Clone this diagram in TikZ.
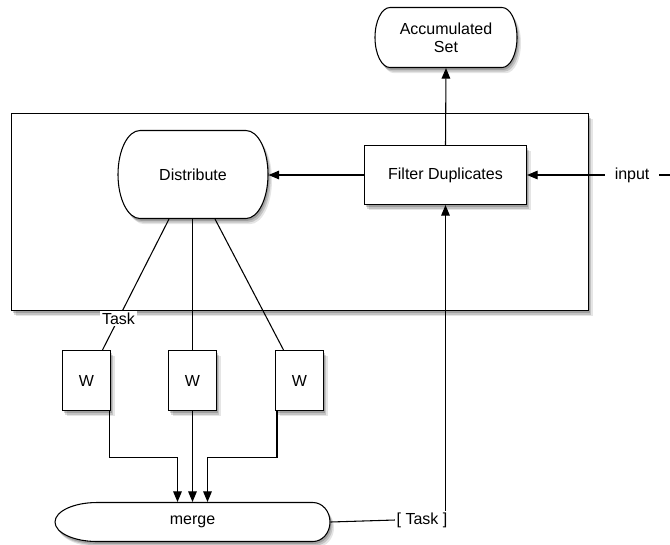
\documentclass[tikz,border=0pt]{standalone}
\usepackage{fontspec}
\setmainfont{Liberation Sans}
\usetikzlibrary{arrows.meta,shadows}
\begin{document}
\begin{tikzpicture}[x=0.75pt,y=-0.75pt,
 font=\fontsize{12}{13.5}\selectfont,
 line width=0.8pt,
 arr/.style={-{Triangle[length=8pt,width=6.5pt]}},
 shad/.style={drop shadow={shadow xshift=1pt,shadow yshift=-1.8pt,opacity=0.18,fill=black},
              drop shadow={shadow xshift=2pt,shadow yshift=-3pt,opacity=0.15,fill=black},
              drop shadow={shadow xshift=3pt,shadow yshift=-4.2pt,opacity=0.1,fill=black}},
 box/.style={draw,fill=white,shad,inner sep=0pt},
 txt/.style={inner sep=0pt,draw=none}]
\useasboundingbox (0,0) rectangle (670,544);

% container
\draw[fill=white,shad] (11.5,113.5) rectangle (588.5,310.5);

% Distribute
\draw[fill=white,shad] (140,130.5) -- (246,130.5)
  arc[start angle=90,end angle=-90,x radius=16.5pt,y radius=33pt] -- (140,218.5)
  arc[start angle=270,end angle=90,x radius=16.5pt,y radius=33pt] -- cycle;
\node[txt,minimum width=112.5pt,minimum height=66pt] (dist) at (193,174.5) {Distribute};

% Accumulated Set
\draw[fill=white,shad] (390,7.5) -- (502,7.5)
  arc[start angle=90,end angle=-90,x radius=11.25pt,y radius=22.5pt] -- (390,67.5)
  arc[start angle=270,end angle=90,x radius=11.25pt,y radius=22.5pt] -- cycle;
\node[txt,minimum width=106.5pt,minimum height=45pt,align=center] (acc) at (446,37.5) {Accumulated\\Set};

% Filter
\node[box,minimum width=121.5pt,minimum height=44.25pt] (filt) at (445.5,175) {Filter Duplicates};

% Workers
\node[box,minimum width=36pt,minimum height=45pt] (w1) at (86.5,380.5) {W};
\node[box,minimum width=36pt,minimum height=45pt] (w2) at (192.5,380.5) {W};
\node[box,minimum width=36pt,minimum height=45pt] (w3) at (299.5,380.5) {W};

% merge
\draw[fill=white,shad] (97,502.5) -- (313,502.5)
  arc[start angle=90,end angle=-90,x radius=12.75pt,y radius=14.625pt] -- (97,541.5)
  arc[start angle=270,end angle=90,x radius=31.5pt,y radius=14.625pt] -- cycle;
\node[txt,minimum width=206.25pt,minimum height=29.25pt] (merge) at (192.5,522) {merge};

% connectors
\draw[arr] (filt.north) -- (acc.south);
\draw[arr] (filt.west) -- (filt.west -| dist.east);
\coordinate (inend) at (675,175);
\draw[arr] (inend) -- node[pos=0.29,fill=white,inner xsep=7pt,inner ysep=2pt]{input} (filt.east);

\draw ([xshift=-18pt]dist.south) -- node[pos=0.76,fill=white,inner sep=1.5pt]{Task} ([xshift=12pt]w1.north);
\draw (w2.north |- dist.south) -- (w2.north);
\draw ([xshift=16.5pt]dist.south) -- ([xshift=-12pt]w3.north);

\draw[arr] ([xshift=-1.5pt]w1.south east) -- ++(0,46) -| ([xshift=-11.25pt]merge.north);
\draw[arr] (w2.south) -- (w2.south |- merge.north);
\draw[arr] ([xshift=1.5pt]w3.south west) -- ++(0,46) -| ([xshift=11.25pt]merge.north);

\node[inner sep=1pt] (tl) at (422,520) {[ Task ]};
\draw (merge.east) -- (tl.west);
\draw[arr] (tl.north east -| filt.south) -- (filt.south);
\end{tikzpicture}
\end{document}
